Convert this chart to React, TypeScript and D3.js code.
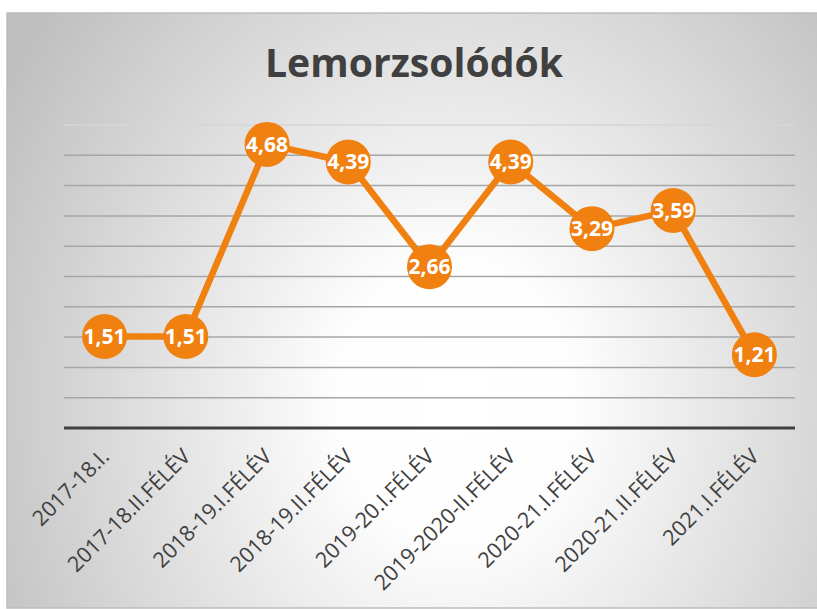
import React from "react";
import * as d3 from "d3";

const categories = [
  "2017-18.I.",
  "2017-18.II.FÉLÉV",
  "2018-19.I.FÉLÉV",
  "2018-19.II.FÉLÉV",
  "2019-20.I.FÉLÉV",
  "2019-2020-II.FÉLÉV",
  "2020-21.I.FÉLÉV",
  "2020-21.II.FÉLÉV",
  "2021.I.FÉLÉV",
];
const values = [1.51, 1.51, 4.68, 4.39, 2.66, 4.39, 3.29, 3.59, 1.21];
const gridTicks = [0.5, 1, 1.5, 2, 2.5, 3, 3.5, 4, 4.5, 5];
const title = "Lemorzsolódók";

const W = 817;
const H = 609;
const ORANGE = "#F08010";
const FONT = "'Open Sans', 'Noto Sans', sans-serif";

export default function App() {
  const x = d3.scaleBand<string>().domain(categories).range([64, 795]);
  const y = d3.scaleLinear().domain([0, 5]).range([428, 125]);
  const cx = (c: string) => (x(c) as number) + x.bandwidth() / 2;
  const line = d3
    .line<number>()
    .x((_, i) => cx(categories[i]))
    .y((d) => y(d));
  const fmt = (v: number) => v.toFixed(2).replace(".", ",");

  return (
    <svg
      width={W}
      height={H}
      style={{ position: "fixed", left: 0, top: 0, display: "block" }}
    >
      <defs>
        <radialGradient
          id="bg"
          gradientUnits="userSpaceOnUse"
          cx={0}
          cy={0}
          r={1}
          gradientTransform="translate(455,400) scale(520,620)"
        >
          <stop offset="0" stopColor="#ffffff" />
          <stop offset="0.22" stopColor="#fefefe" />
          <stop offset="1" stopColor="#bfbfbf" />
        </radialGradient>
      </defs>
      <rect x={0} y={0} width={W} height={H} fill="#ffffff" />
      <rect
        x={7}
        y={13}
        width={830}
        height={595}
        fill="url(#bg)"
        stroke="#bdbdbd"
        strokeWidth={1.5}
      />
      <text
        x={414}
        y={77}
        textAnchor="middle"
        fontFamily={FONT}
        fontWeight={700}
        fontSize={40}
        fill="#404040"
        textLength={298}
        lengthAdjust="spacingAndGlyphs"
      >
        {title}
      </text>
      {gridTicks.map((t) => (
        <line
          key={t}
          x1={64}
          x2={795}
          y1={y(t)}
          y2={y(t)}
          stroke={t === 5 ? "#d6d6d6" : "#a6a6a6"}
          strokeWidth={1.5}
        />
      ))}
      <line x1={64} x2={795} y1={y(0)} y2={y(0)} stroke="#404040" strokeWidth={3} />
      {categories.map((c) => (
        <text
          key={c}
          transform={`translate(${cx(c) + 6},458) rotate(-45)`}
          textAnchor="end"
          fontFamily={FONT}
          fontSize={21.5}
          fill="#404040"
        >
          {c}
        </text>
      ))}
      <path
        d={line(values) as string}
        fill="none"
        stroke={ORANGE}
        strokeWidth={6.5}
        strokeLinejoin="round"
      />
      {values.map((v, i) => (
        <g key={i} transform={`translate(${cx(categories[i])},${y(v)})`}>
          <circle r={22.5} fill={ORANGE} />
          <text
            y={7.5}
            textAnchor="middle"
            fontFamily={FONT}
            fontWeight={700}
            fontSize={21}
            fill="#ffffff"
          >
            {fmt(v)}
          </text>
        </g>
      ))}
    </svg>
  );
}
